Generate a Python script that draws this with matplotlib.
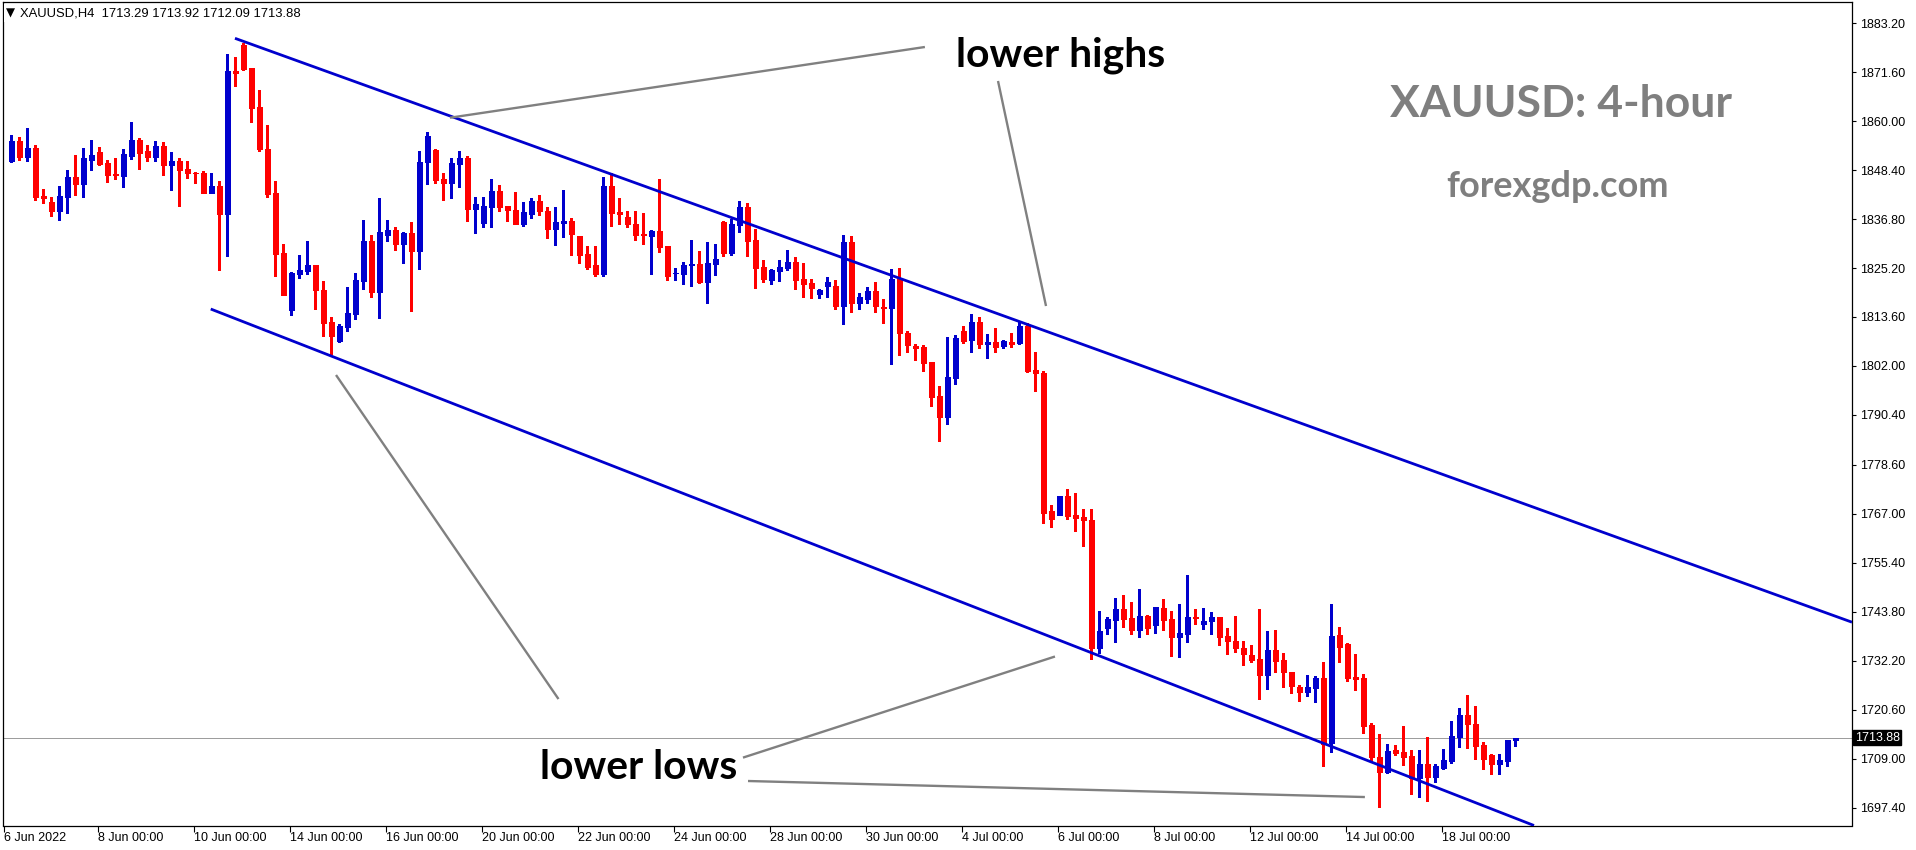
import matplotlib
matplotlib.use("Agg")
import matplotlib.pyplot as plt
import numpy as np
from matplotlib.transforms import blended_transform_factory

# ---- XAUUSD H4 candles (open, high, low, close) ----
opens = [
    1850.6, 1855.3, 1851.6, 1853.6, 1842.3, 1840.8, 1838.8, 1842.1, 1846.8, 1845.0,
    1850.9, 1852.7, 1850.1, 1847.5, 1847.1, 1851.8, 1855.5, 1852.9, 1851.6, 1854.1,
    1849.5, 1850.6, 1848.7, 1847.8, 1847.7, 1843.0, 1844.6, 1838.1, 1871.9, 1878.0,
    1872.6, 1863.4, 1853.4, 1842.9, 1828.7, 1815.3, 1823.9, 1824.6, 1825.9, 1820.0,
    1812.4, 1807.9, 1811.3, 1814.3, 1822.2, 1831.6, 1819.6, 1833.1, 1834.1, 1831.0,
    1833.5, 1829.3, 1850.2, 1853.2, 1846.3, 1845.4, 1849.9, 1851.3, 1839.3, 1835.9,
    1839.7, 1843.4, 1839.9, 1838.9, 1835.7, 1838.1, 1841.1, 1838.7, 1834.5, 1835.9,
    1836.3, 1832.8, 1828.5, 1825.9, 1823.9, 1844.6, 1838.5, 1837.3, 1835.6, 1833.3,
    1832.9, 1834.0, 1830.4, 1824.0, 1823.9, 1825.8, 1826.2, 1822.0, 1826.2, 1836.1,
    1828.8, 1835.5, 1839.7, 1831.8, 1825.4, 1822.4, 1824.6, 1825.3, 1826.6, 1822.6,
    1821.7, 1819.1, 1820.9, 1821.0, 1816.3, 1831.4, 1816.8, 1817.9, 1819.8, 1816.0,
    1815.8, 1822.6, 1809.8, 1806.8, 1806.6, 1802.9, 1794.9, 1789.8, 1799.2, 1810.3,
    1808.2, 1812.4, 1807.3, 1807.7, 1806.8, 1807.7, 1807.5, 1811.5, 1801.0, 1800.3,
    1767.6, 1766.8, 1771.2, 1766.7, 1766.2, 1765.5, 1735.1, 1740.0, 1741.9, 1744.4,
    1742.3, 1739.5, 1742.8, 1740.7, 1744.7, 1742.1, 1737.9, 1738.6, 1742.5, 1740.9,
    1741.6, 1742.5, 1738.1, 1736.9, 1735.2, 1733.5, 1732.6, 1728.9, 1734.7, 1732.3,
    1729.5, 1725.9, 1724.8, 1725.8, 1728.1, 1712.7, 1738.3, 1736.1, 1728.3, 1728.1,
    1717.0, 1709.4, 1705.9, 1711.0, 1710.5, 1709.6, 1704.4, 1707.7, 1704.7, 1706.7,
    1708.5, 1714.2, 1719.3, 1717.2, 1712.2, 1709.8, 1707.6, 1708.5, 1713.29,
]
highs = [
    1856.7, 1856.2, 1858.4, 1854.3, 1843.9, 1842.0, 1844.6, 1848.4, 1852.0, 1853.6,
    1855.5, 1853.9, 1850.8, 1851.3, 1853.4, 1859.8, 1856.0, 1854.4, 1855.3, 1855.1,
    1852.7, 1851.3, 1850.6, 1848.0, 1848.2, 1847.7, 1845.8, 1875.9, 1875.2, 1878.4,
    1872.6, 1867.4, 1859.1, 1845.8, 1830.9, 1824.2, 1828.3, 1831.6, 1825.9, 1822.1,
    1813.6, 1811.9, 1820.7, 1824.0, 1836.6, 1833.0, 1841.8, 1836.6, 1834.9, 1833.7,
    1836.1, 1852.9, 1857.4, 1853.5, 1847.7, 1851.3, 1852.9, 1851.7, 1842.0, 1842.0,
    1846.3, 1844.8, 1839.9, 1843.2, 1840.8, 1841.8, 1842.5, 1839.6, 1839.6, 1843.7,
    1837.0, 1832.8, 1830.4, 1830.4, 1846.8, 1847.7, 1841.8, 1838.7, 1838.7, 1838.2,
    1834.2, 1846.3, 1830.4, 1825.2, 1826.6, 1831.8, 1829.2, 1831.4, 1830.9, 1836.3,
    1836.8, 1841.1, 1840.6, 1834.5, 1827.1, 1825.0, 1827.1, 1829.5, 1827.8, 1826.4,
    1822.6, 1820.3, 1823.1, 1822.4, 1833.0, 1832.8, 1819.3, 1820.7, 1821.9, 1817.9,
    1825.0, 1825.2, 1810.3, 1807.2, 1807.0, 1802.9, 1797.3, 1808.9, 1809.4, 1811.5,
    1814.3, 1813.6, 1809.6, 1811.0, 1808.2, 1809.8, 1812.4, 1812.1, 1805.3, 1800.7,
    1769.1, 1771.2, 1772.9, 1771.9, 1768.1, 1768.1, 1743.9, 1742.5, 1747.0, 1747.7,
    1746.1, 1749.2, 1743.0, 1744.9, 1746.8, 1743.9, 1745.6, 1752.5, 1744.4, 1744.6,
    1743.7, 1742.5, 1739.9, 1742.8, 1736.9, 1735.9, 1744.4, 1739.2, 1739.5, 1734.0,
    1729.5, 1726.4, 1728.8, 1728.5, 1731.9, 1745.6, 1740.2, 1736.4, 1733.8, 1729.0,
    1717.4, 1714.8, 1712.4, 1712.2, 1716.7, 1711.0, 1711.0, 1714.1, 1707.7, 1711.3,
    1717.9, 1720.9, 1724.0, 1721.4, 1712.9, 1710.1, 1710.1, 1713.4, 1713.92,
]
lows = [
    1850.4, 1850.8, 1850.6, 1841.3, 1840.7, 1837.5, 1836.6, 1838.3, 1842.6, 1842.1,
    1848.4, 1849.5, 1845.6, 1846.4, 1844.5, 1851.1, 1848.7, 1850.6, 1850.6, 1847.3,
    1843.8, 1840.0, 1846.6, 1845.4, 1843.0, 1843.0, 1824.8, 1828.1, 1868.4, 1872.1,
    1859.9, 1853.0, 1842.1, 1823.4, 1818.9, 1814.1, 1822.9, 1823.9, 1815.5, 1809.2,
    1804.8, 1807.6, 1810.4, 1813.2, 1820.3, 1818.4, 1813.4, 1831.6, 1829.5, 1826.4,
    1815.0, 1825.0, 1845.2, 1845.4, 1841.3, 1841.8, 1844.5, 1836.3, 1833.5, 1834.9,
    1834.9, 1838.7, 1836.3, 1835.7, 1835.2, 1837.1, 1837.8, 1832.4, 1830.7, 1832.6,
    1828.4, 1826.5, 1825.0, 1823.2, 1823.4, 1835.2, 1835.7, 1835.0, 1831.9, 1831.0,
    1823.9, 1829.1, 1822.4, 1822.4, 1821.5, 1821.0, 1821.7, 1816.8, 1823.5, 1828.1,
    1828.4, 1833.8, 1828.1, 1820.5, 1822.0, 1821.5, 1822.2, 1824.8, 1820.3, 1818.4,
    1818.2, 1818.2, 1818.4, 1815.6, 1812.0, 1814.8, 1815.6, 1817.0, 1814.8, 1812.2,
    1802.5, 1804.7, 1805.4, 1803.3, 1800.9, 1792.4, 1784.3, 1788.3, 1797.8, 1807.5,
    1805.4, 1806.3, 1804.0, 1805.4, 1806.3, 1806.6, 1807.3, 1800.6, 1796.1, 1764.9,
    1763.9, 1766.8, 1765.8, 1763.0, 1759.4, 1732.5, 1733.9, 1738.4, 1736.5, 1740.2,
    1738.4, 1737.9, 1738.6, 1738.8, 1739.5, 1733.2, 1733.0, 1736.5, 1740.9, 1739.7,
    1738.6, 1736.0, 1733.7, 1734.2, 1731.2, 1731.9, 1723.2, 1725.5, 1729.6, 1726.0,
    1724.6, 1722.7, 1723.9, 1722.5, 1707.3, 1710.6, 1731.9, 1727.4, 1725.3, 1715.1,
    1708.5, 1697.6, 1705.6, 1709.8, 1707.5, 1700.7, 1700.0, 1699.0, 1703.5, 1706.6,
    1708.0, 1711.8, 1711.6, 1708.9, 1706.6, 1705.4, 1705.4, 1707.3, 1712.09,
]
closes = [
    1855.3, 1851.6, 1853.6, 1842.1, 1841.9, 1838.8, 1842.3, 1846.8, 1845.0, 1851.3,
    1852.0, 1849.9, 1847.3, 1847.2, 1852.2, 1855.5, 1852.5, 1851.6, 1854.1, 1849.5,
    1850.6, 1848.5, 1847.7, 1847.6, 1843.0, 1844.6, 1838.1, 1871.9, 1871.5, 1872.4,
    1863.2, 1853.3, 1842.7, 1828.6, 1818.9, 1824.0, 1824.7, 1825.9, 1820.1, 1812.2,
    1809.2, 1811.5, 1814.5, 1822.4, 1831.6, 1819.6, 1833.7, 1834.1, 1831.0, 1833.5,
    1829.3, 1850.3, 1856.5, 1846.1, 1845.4, 1850.1, 1851.3, 1839.3, 1840.4, 1839.9,
    1843.4, 1839.7, 1839.0, 1835.7, 1838.5, 1841.1, 1838.6, 1834.5, 1836.1, 1836.3,
    1833.3, 1828.4, 1825.5, 1823.9, 1844.6, 1838.3, 1838.1, 1835.7, 1833.1, 1833.0,
    1834.0, 1830.3, 1823.2, 1824.1, 1825.9, 1826.1, 1822.0, 1826.4, 1827.3, 1828.8,
    1835.6, 1839.7, 1831.7, 1825.3, 1822.7, 1824.7, 1825.4, 1826.6, 1822.4, 1821.5,
    1820.5, 1820.1, 1821.9, 1816.3, 1831.4, 1816.8, 1818.3, 1819.8, 1816.1, 1815.8,
    1822.6, 1809.9, 1807.0, 1806.3, 1802.8, 1794.7, 1789.8, 1799.4, 1808.6, 1808.0,
    1812.4, 1807.3, 1807.7, 1806.6, 1807.9, 1807.3, 1811.5, 1800.8, 1800.4, 1767.2,
    1765.8, 1771.2, 1766.5, 1766.1, 1765.4, 1735.1, 1739.2, 1742.1, 1744.4, 1742.1,
    1739.5, 1742.8, 1740.0, 1744.9, 1741.9, 1737.9, 1738.7, 1742.5, 1742.3, 1741.6,
    1742.5, 1737.9, 1736.9, 1735.1, 1733.8, 1732.4, 1728.9, 1734.7, 1732.2, 1729.6,
    1726.3, 1724.8, 1725.9, 1728.1, 1712.5, 1738.0, 1735.4, 1728.1, 1727.8, 1716.8,
    1709.4, 1705.9, 1710.8, 1710.3, 1709.4, 1704.4, 1707.7, 1704.7, 1707.2, 1708.6,
    1714.3, 1719.3, 1717.3, 1712.0, 1709.0, 1707.8, 1708.6, 1713.4, 1713.88,
]

symbol_title = "XAUUSD,H4"
last_price = 1713.88
price_ticks = [1883.20, 1871.60, 1860.00, 1848.40, 1836.80, 1825.20, 1813.60, 1802.00,
               1790.40, 1778.60, 1767.00, 1755.40, 1743.80, 1732.20, 1720.60, 1709.00,
               1697.40]
date_labels = ["6 Jun 2022", "8 Jun 00:00", "10 Jun 00:00", "14 Jun 00:00", "16 Jun 00:00",
               "20 Jun 00:00", "22 Jun 00:00", "24 Jun 00:00", "28 Jun 00:00", "30 Jun 00:00",
               "4 Jul 00:00", "6 Jul 00:00", "8 Jul 00:00", "12 Jul 00:00", "14 Jul 00:00",
               "18 Jul 00:00"]

# channel lines (bar index, price)
upper_channel = [(27.96, 1879.62), (230.09, 1741.30)]
lower_channel = [(24.93, 1815.49), (190.34, 1693.14)]
# pointer lines for the annotations
highs_pointers = [[(54.84, 1860.81), (114.20, 1877.56)],
                  [(123.34, 1869.51), (129.34, 1816.20)]]
lows_pointers = [[(40.59, 1799.86), (68.40, 1723.10)],
                 [(91.46, 1709.22), (130.46, 1733.17)],
                 [(92.09, 1703.68), (169.20, 1699.88)]]

BLUE = "#0000CD"
RED = "#FF0000"
GRAY = "#808080"

W, H = 1916, 850
fig = plt.figure(figsize=(W / 100, H / 100), dpi=100)
left_px, right_px, top_px, bottom_px = 2.7, 1852.0, 2.0, 825.5
ax = fig.add_axes([left_px / W, 1 - bottom_px / H,
                   (right_px - left_px) / W, (bottom_px - top_px) / H])
ax.set_xlim(-1.075, 230.09)
ax.set_ylim(1693.14, 1888.22)

o = np.array(opens)
h = np.array(highs)
l = np.array(lows)
c = np.array(closes)
idx = np.arange(len(o))
col = np.where(c >= o, BLUE, RED)

ax.vlines(idx, l, h, colors=col, linewidth=0.8, zorder=3, antialiased=False)
ax.bar(idx, np.abs(c - o), bottom=np.minimum(o, c), width=0.6, color=col,
       edgecolor=col, linewidth=0.6, zorder=4, antialiased=False)

# current price line
ax.axhline(last_price, color="#9a9a9a", linewidth=0.7, zorder=2)

# channel
for seg in (upper_channel, lower_channel):
    xs, ys = zip(*seg)
    ax.plot(xs, ys, color=BLUE, linewidth=2.0, zorder=5, solid_capstyle="butt")

for seg in highs_pointers + lows_pointers:
    xs, ys = zip(*seg)
    ax.plot(xs, ys, color=GRAY, linewidth=1.7, zorder=5, solid_capstyle="butt")

ann_font = dict(family="Lato", fontweight="bold")
ax.text(131.15, 1872.9, "lower highs", ha="center", va="baseline", fontsize=29.4,
        color="black", zorder=6, **ann_font)
ax.text(78.4, 1704.27, "lower lows", ha="center", va="baseline", fontsize=29.4,
        color="black", zorder=6, **ann_font)
ax.text(193.7, 1861.05, "XAUUSD: 4-hour", ha="center", va="baseline", fontsize=32,
        color="#7f7f7f", zorder=6, **ann_font)
ax.text(193.3, 1842.1, "forexgdp.com", ha="center", va="baseline", fontsize=26,
        color="#7f7f7f", zorder=6, **ann_font)

# axes frame and scales
for sp in ax.spines.values():
    sp.set_color("black")
    sp.set_linewidth(0.9)

axis_font = ["Liberation Sans", "DejaVu Sans"]
ax.yaxis.tick_right()
ax.set_yticks(price_ticks)
ax.set_yticklabels([f"{p:.2f}" for p in price_ticks], fontsize=9, family=axis_font)
ax.tick_params(axis="y", length=3, width=0.8, pad=3, colors="black")

date_pos = [-0.95] + [12 * j - 1.2 for j in range(1, len(date_labels))]
ax.set_xticks(date_pos)
ax.set_xticklabels(date_labels, fontsize=9, family=axis_font)
for lab in ax.get_xticklabels():
    lab.set_horizontalalignment("left")
ax.tick_params(axis="x", length=4, width=0.8, pad=1, colors="black")

# last price tag
tr = blended_transform_factory(ax.transAxes, ax.transData)
ax.text(1.0015, last_price, f"{last_price:.2f}", transform=tr, ha="left", va="center",
        fontsize=9, color="white", family=axis_font, zorder=10, clip_on=False,
        bbox=dict(boxstyle="square,pad=0.12", facecolor="black", edgecolor="black"))

# symbol header
fig.text(6 / W, 1 - 13 / H, "\u25BC", fontsize=8.5, family=["DejaVu Sans"],
         va="center", ha="left", color="black",
         bbox=dict(boxstyle="square,pad=0.2", facecolor="white", edgecolor="none"))
fig.text(20.5 / W, 1 - 13.5 / H,
         f"{symbol_title}  {opens[-1]:.2f} {highs[-1]:.2f} {lows[-1]:.2f} {closes[-1]:.2f}",
         fontsize=9.4, family=axis_font, va="center", ha="left", color="black",
         bbox=dict(boxstyle="square,pad=0.2", facecolor="white", edgecolor="none"))

fig.savefig("out.png", dpi=100, facecolor="white")
